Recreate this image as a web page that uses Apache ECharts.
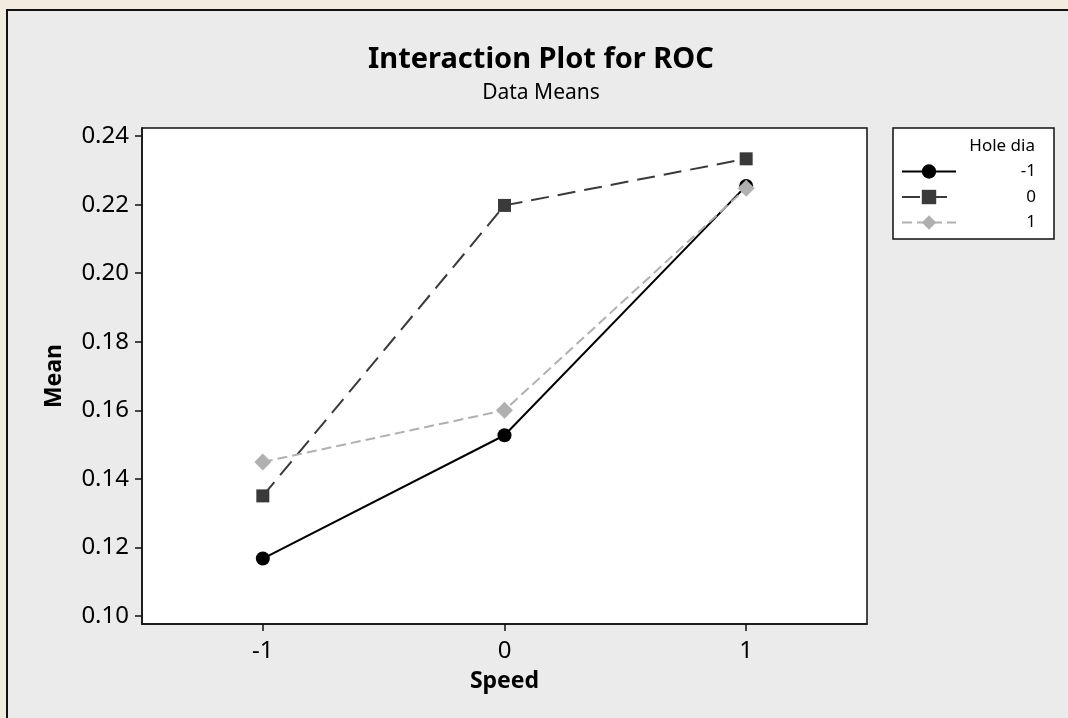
<!DOCTYPE html>
<html>
<head>
<meta charset="utf-8">
<script src="https://cdn.jsdelivr.net/npm/echarts@6/dist/echarts.min.js"></script>
<style>
  html, body { margin: 0; padding: 0; width: 1068px; height: 718px; overflow: hidden; background: #f1ecdf; }
  #frame { position: absolute; left: 6px; top: 9px; width: 1100px; height: 800px; background: #ebebeb; border-left: 2px solid #111; border-top: 2px solid #111; box-sizing: border-box; }
  #chart { position: absolute; left: 0; top: 0; width: 1068px; height: 718px; }
</style>
</head>
<body>
<div id="frame"></div>
<div id="chart"></div>
<script>
// ---- data ----
const speedLevels = [-1, 0, 1];
const holeDiaLevels = ['-1', '0', '1'];
const meansHoleM1 = [0.1167, 0.1527, 0.2255];
const meansHole0 = [0.1350, 0.2198, 0.2334];
const meansHole1 = [0.1449, 0.1600, 0.2248];
const yTickValues = [0.10, 0.12, 0.14, 0.16, 0.18, 0.20, 0.22, 0.24];
const xTickValues = [-1, 0, 1];

const FONT = 'Noto Sans';
const toPairs = vals => speedLevels.map((s, i) => [s, vals[i]]);

const seriesDefs = [
  { name: holeDiaLevels[0], data: meansHoleM1, color: '#000000', symbol: 'circle', size: 14, dash: 'solid' },
  { name: holeDiaLevels[1], data: meansHole0, color: '#3a3a3a', symbol: 'rect', size: 13, dash: [18, 9] },
  { name: holeDiaLevels[2], data: meansHole1, color: '#b0b0b0', symbol: 'diamond', size: 17, dash: [10, 5] }
];

const chart = echarts.init(document.getElementById('chart'), null, { renderer: 'canvas' });
chart.setOption({
  backgroundColor: 'transparent',
  animation: false,
  graphic: [
    { type: 'text', z: 100, x: 541, y: 60, style: { text: 'Interaction Plot for ROC', font: 'bold 29px "' + FONT + '"', fill: '#000', align: 'center', verticalAlign: 'middle' } },
    { type: 'text', z: 100, x: 541, y: 93, style: { text: 'Data Means', font: '21px "' + FONT + '"', fill: '#000', align: 'center', verticalAlign: 'middle' } },
    { type: 'text', z: 100, zlevel: 1, x: 1035, y: 146, style: { text: 'Hole dia', font: '17px "' + FONT + '"', fill: '#000', align: 'right', verticalAlign: 'middle' } }
  ],
  grid: {
    left: 142, top: 128, right: 201, bottom: 94,
    show: true, backgroundColor: '#ffffff', borderColor: '#111', borderWidth: 1.5
  },
  legend: {
    orient: 'vertical',
    left: 893, top: 128,
    padding: [35, 18, 8, 8],
    borderColor: '#111', borderWidth: 1.5,
    backgroundColor: '#ffffff',
    itemWidth: 54, itemHeight: 18, itemGap: 8.5,
    data: holeDiaLevels,
    formatter: n => '{a|' + n + '}',
    textStyle: {
      fontFamily: FONT, fontSize: 17, color: '#000',
      rich: { a: { width: 75, align: 'right', fontFamily: FONT, fontSize: 17, color: '#000' } }
    }
  },
  xAxis: {
    type: 'value', min: -1.5, max: 1.5,
    name: 'Speed', nameLocation: 'middle', nameGap: 46,
    nameTextStyle: { fontFamily: FONT, fontSize: 23, fontWeight: 'bold', color: '#000' },
    axisLine: { show: true, onZero: false, lineStyle: { color: '#111', width: 1.5 } },
    axisTick: { show: true, length: 7, lineStyle: { color: '#111', width: 1.5 }, customValues: xTickValues },
    axisLabel: { customValues: xTickValues, margin: 15, fontFamily: FONT, fontSize: 24, color: '#000', formatter: v => String(v) },
    splitLine: { show: false }
  },
  yAxis: {
    type: 'value', min: 0.0976, max: 0.2424,
    name: 'Mean', nameLocation: 'middle', nameGap: 76,
    nameTextStyle: { fontFamily: FONT, fontSize: 23, fontWeight: 'bold', color: '#000' },
    axisLine: { show: true, onZero: false, lineStyle: { color: '#111', width: 1.5 } },
    axisTick: { show: true, length: 7, lineStyle: { color: '#111', width: 1.5 }, customValues: yTickValues },
    axisLabel: { customValues: yTickValues, margin: 13, fontFamily: FONT, fontSize: 24, color: '#000', formatter: v => v.toFixed(2) },
    splitLine: { show: false }
  },
  series: seriesDefs.map(d => ({
    type: 'line',
    name: d.name,
    data: toPairs(d.data),
    symbol: d.symbol,
    symbolSize: d.size,
    showSymbol: true,
    color: d.color,
    itemStyle: { color: d.color },
    lineStyle: { color: d.color, width: 2, type: d.dash },
    emphasis: { disabled: true }
  }))
});
</script>
</body>
</html>
